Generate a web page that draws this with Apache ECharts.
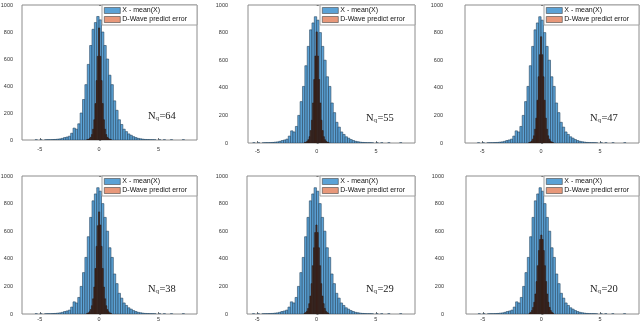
<!DOCTYPE html>
<html>
<head>
<meta charset="utf-8">
<script src="https://cdn.jsdelivr.net/npm/echarts@6/dist/echarts.min.js"></script>
<style>
  html, body { margin: 0; padding: 0; background: #fff; }
  #chart { width: 640px; height: 324px; }
</style>
</head>
<body>
<div id="chart"></div>
<script>
// X - mean(X) histogram (same in every panel), bin width 0.2
const blueCenters = [-5.3, -4.9, -4.5, -4.3, -4.1, -3.9, -3.7, -3.5, -3.3, -3.1, -2.9, -2.7, -2.5, -2.3, -2.1, -1.9, -1.7, -1.5, -1.3, -1.1, -0.9, -0.7, -0.5, -0.3, -0.1,
  0.1, 0.3, 0.5, 0.7, 0.9, 1.1, 1.3, 1.5, 1.7, 1.9, 2.1, 2.3, 2.5, 2.7, 2.9, 3.1, 3.3, 3.5, 3.7, 3.9, 4.1, 4.3, 4.5, 4.7, 5.1, 5.5, 6.1, 7.1]
const blueCounts = [1, 1, 1, 2, 2, 3, 4, 6, 8, 12, 18, 22, 28, 50, 88, 80, 120, 200, 300, 410, 560, 700, 820, 870, 915,
  890, 800, 700, 600, 480, 410, 290, 220, 150, 115, 80, 62, 45, 35, 25, 18, 12, 9, 6, 4, 3, 2, 2, 1, 1, 1, 1, 1]
const blueWidth = 0.2

// D-Wave predict error histograms, bin width 0.1
const orangeCenters = [-1.0, -0.9, -0.8, -0.7, -0.6, -0.5, -0.4, -0.3, -0.2, -0.1, 0, 0.1, 0.2, 0.3, 0.4, 0.5, 0.6, 0.7, 0.8, 0.9, 1.0]
const orange64 = [2, 5, 10, 20, 40, 80, 150, 270, 440, 620, 830, 620, 440, 270, 150, 80, 40, 20, 10, 5, 2]
const orange55 = [3, 6, 12, 24, 46, 90, 165, 290, 460, 630, 805, 630, 460, 290, 165, 90, 46, 24, 12, 6, 3]
const orange47 = [3, 7, 14, 28, 52, 100, 180, 310, 480, 640, 770, 640, 480, 310, 180, 100, 52, 28, 14, 7, 3]
const orange38 = [4, 8, 16, 32, 60, 110, 195, 330, 490, 640, 740, 645, 490, 330, 195, 110, 60, 32, 16, 8, 4]
const orange29 = [5, 10, 20, 40, 75, 130, 220, 350, 480, 590, 645, 590, 480, 350, 220, 130, 75, 40, 20, 10, 5]
const orange20 = [6, 12, 25, 48, 85, 145, 235, 350, 460, 540, 572, 540, 460, 350, 235, 145, 85, 48, 25, 12, 6]
const orangeWidth = 0.1

const panelLabels = ['64', '55', '47', '38', '29', '20']
const panelOrange = [orange64, orange55, orange47, orange38, orange29, orange20]

const xTicks = [-5, 0, 5]
const yTicks = [0, 200, 400, 600, 800, 1000]

const seriesNames = ['X - mean(X)', 'D-Wave predict error']

// panel boxes in px, axis ranges, label gaps
const layout = [
  { l: 22, r: 197, t: 5, b: 140, xmin: -6.5, xmax: 8.25, gap: 9, xgap: 6 },
  { l: 248, r: 415, t: 5, b: 143, xmin: -5.8, xmax: 8.3, gap: 20, xgap: 5 },
  { l: 465, r: 639, t: 5, b: 143, xmin: -6.45, xmax: 8.3, gap: 22, xgap: 5 },
  { l: 22, r: 197, t: 176, b: 314, xmin: -6.5, xmax: 8.25, gap: 9, xgap: 2 },
  { l: 247, r: 415, t: 176, b: 314, xmin: -5.85, xmax: 8.3, gap: 19, xgap: 2 },
  { l: 466, r: 639, t: 176, b: 314, xmin: -6.43, xmax: 8.33, gap: 22, xgap: 2 }
]

const BLUE = '#5ba2d6'
const BLUE_EDGE = '#26445e'
const BROWN = '#4a2c22'
const BROWN_EDGE = '#2a1a14'
const ORANGE_LEGEND = '#e8987a'

const histItem = (width, fill, stroke) => (params, api) => {
  const c = api.value(0)
  const v = api.value(1)
  const p0 = api.coord([c - width / 2, 0])
  const p1 = api.coord([c + width / 2, v])
  return {
    type: 'rect',
    shape: { x: p0[0], y: p1[1], width: p1[0] - p0[0], height: p0[1] - p1[1] },
    style: { fill: fill, stroke: stroke, lineWidth: 0.6 }
  }
}

const chart = echarts.init(document.getElementById('chart'), null, { renderer: 'canvas' })

const grid = [], xAxis = [], yAxis = [], series = [], legend = [], graphic = []

layout.forEach((p, i) => {
  grid.push({
    left: p.l, top: p.t, width: p.r - p.l, height: p.b - p.t,
    show: true, borderColor: '#8c8c8c', borderWidth: 1, backgroundColor: 'transparent',
    containLabel: false, outerBoundsMode: 'none'
  })
  xAxis.push({
    type: 'value', gridIndex: i, min: p.xmin, max: p.xmax,
    axisLine: { show: false },
    splitLine: { show: false },
    axisTick: { show: true, inside: true, length: 2, customValues: xTicks, lineStyle: { color: '#777' } },
    axisLabel: { customValues: xTicks, fontSize: 5.5, color: '#333', margin: p.xgap, fontFamily: 'Liberation Sans',
      formatter: v => String(v) }
  })
  yAxis.push({
    type: 'value', gridIndex: i, min: 0, max: 1000,
    axisLine: { show: false },
    splitLine: { show: false },
    axisTick: { show: true, inside: true, length: 2, customValues: yTicks, lineStyle: { color: '#777' } },
    axisLabel: { customValues: yTicks, fontSize: 5.5, color: '#333', margin: p.gap, fontFamily: 'Liberation Sans',
      formatter: v => String(v) }
  })
  series.push({
    type: 'custom', name: seriesNames[0], xAxisIndex: i, yAxisIndex: i,
    renderItem: histItem(blueWidth, BLUE, BLUE_EDGE),
    encode: { x: 0, y: 1 },
    itemStyle: { color: BLUE },
    clip: true,
    data: blueCenters.map((c, k) => [c, blueCounts[k]])
  })
  series.push({
    type: 'custom', name: seriesNames[1], xAxisIndex: i, yAxisIndex: i,
    renderItem: histItem(orangeWidth, BROWN, BROWN_EDGE),
    encode: { x: 0, y: 1 },
    itemStyle: { color: ORANGE_LEGEND },
    clip: true,
    z: 3,
    data: orangeCenters.map((c, k) => [c, panelOrange[i][k]])
  })
  legend.push({
    orient: 'vertical', right: 640 - p.r, top: p.t,
    icon: 'rect', itemWidth: 16, itemHeight: 6, itemGap: 2,
    padding: [2, 10, 2, 2],
    backgroundColor: '#fff', borderColor: '#a0a0a0', borderWidth: 1, borderRadius: 0,
    selectedMode: false,
    textStyle: { fontSize: 7, color: '#111', fontFamily: 'Liberation Sans', padding: [0, 0, 0, -3] },
    data: [
      { name: seriesNames[0], itemStyle: { color: BLUE, borderColor: '#444', borderWidth: 0.6 } },
      { name: seriesNames[1], itemStyle: { color: ORANGE_LEGEND, borderColor: '#444', borderWidth: 0.6 } }
    ]
  })
  // N_q annotation
  const nx = p.r - 49
  const ny = p.t + (p.b - p.t) * 0.78
  graphic.push({
    type: 'group', left: nx, top: ny,
    children: [
      { type: 'text', x: 0, y: 0, style: { text: 'N', fontSize: 10.5, fontFamily: 'Liberation Serif', fill: '#222' } },
      { type: 'text', x: 7.6, y: 4.5, style: { text: 'q', fontSize: 7, fontFamily: 'Liberation Serif', fill: '#222' } },
      { type: 'text', x: 11.4, y: 0, style: { text: '=' + panelLabels[i], fontSize: 10.5, fontFamily: 'Liberation Serif', fill: '#222' } }
    ]
  })
})

chart.setOption({
  backgroundColor: '#fff',
  animation: false,
  grid: grid,
  xAxis: xAxis,
  yAxis: yAxis,
  legend: legend,
  series: series,
  graphic: graphic
})
</script>
</body>
</html>
